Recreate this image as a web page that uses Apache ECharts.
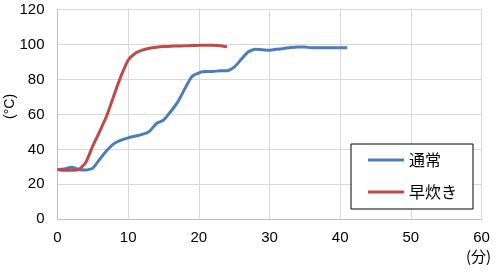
<!DOCTYPE html>
<html><head><meta charset="utf-8">
<script src="https://cdn.jsdelivr.net/npm/echarts@6/dist/echarts.min.js"></script>
<style>html,body{margin:0;padding:0;background:#fff}#c{width:500px;height:271px}</style>
</head><body><div id="c"></div>
<script>
const minutes = Array.from({length: 61}, (_, i) => i);
const normalTemps = [28.5,28.8,29.8,28.5,28.2,29.3,34.5,39.5,43.3,45.3,46.6,47.6,48.6,50.3,54.8,56.7,61.5,67,74.5,81.5,83.8,84.5,84.5,85,85,87,91.5,95.8,97.2,97,96.7,97.2,97.7,98.3,98.6,98.5,98.1,98.1,98.1,98.1,98.1,98.1];
const quickTemps = [28.5,28,28,28.5,32.5,42,50.5,59.5,71,82,91,95,96.8,97.8,98.4,98.8,99,99.1,99.2,99.4,99.5,99.6,99.5,99.3,98.7];
const seriesNames = ['通常','早炊き'];
const xTicks = [0,10,20,30,40,50,60];
const yTicks = [0,20,40,60,80,100,120];

const toPairs = arr => arr.map((v, i) => [minutes[i], v]);
const font = '"Liberation Sans", Arial, sans-serif';
const chart = echarts.init(document.getElementById('c'));
chart.setOption({
  animation: false,
  title: { text: '(分)', left: 466, top: 249, textStyle: { fontFamily: '"Noto Sans CJK JP", sans-serif', fontSize: 15, fontWeight: 'normal', color: '#000' }, padding: 0 },
  grid: { left: 57.5, right: 18.5, top: 9.5, bottom: 51.7, containLabel: false, outerBoundsMode: 'none' },
  xAxis: {
    type: 'value', min: xTicks[0], max: xTicks[xTicks.length-1], interval: 10,
    axisLine: { show: true, lineStyle: { color: '#bfbfbf', width: 1 } },
    axisTick: { show: false },
    splitLine: { show: true, lineStyle: { color: '#d9d9d9', width: 1 } },
    axisLabel: { fontFamily: font, fontSize: 15, color: '#000', margin: 11 }
  },
  yAxis: {
    type: 'value', min: yTicks[0], max: yTicks[yTicks.length-1], interval: 20,
    name: '(°C)', nameLocation: 'middle', nameRotate: 90, nameGap: 40, nameMoveOverlap: false,
    nameTextStyle: { fontFamily: font, fontSize: 14, color: '#000', padding: [0, 0, 0, 16] },
    axisLine: { show: true, lineStyle: { color: '#bfbfbf', width: 1 } },
    axisTick: { show: false },
    splitLine: { show: true, lineStyle: { color: '#d9d9d9', width: 1 } },
    axisLabel: { fontFamily: font, fontSize: 15, color: '#000', margin: 13 }
  },
  legend: {
    orient: 'vertical', left: 351, top: 144,
    padding: [8, 16, 9, 17], itemGap: 16, itemWidth: 36, itemHeight: 3,
    borderColor: '#000', borderWidth: 1, backgroundColor: '#fff',
    icon: 'rect',
    textStyle: { fontFamily: '"Noto Sans CJK JP", sans-serif', fontSize: 16, color: '#000' },
    data: seriesNames
  },
  series: [
    { name: seriesNames[0], type: 'line', data: toPairs(normalTemps), showSymbol: false, symbol: 'none', smooth: 0.2,
      lineStyle: { color: '#4a7ebb', width: 3 }, itemStyle: { color: '#4a7ebb' } },
    { name: seriesNames[1], type: 'line', data: toPairs(quickTemps), showSymbol: false, symbol: 'none', smooth: 0.2,
      lineStyle: { color: '#be4b48', width: 3 }, itemStyle: { color: '#be4b48' } }
  ]
});
</script></body></html>
